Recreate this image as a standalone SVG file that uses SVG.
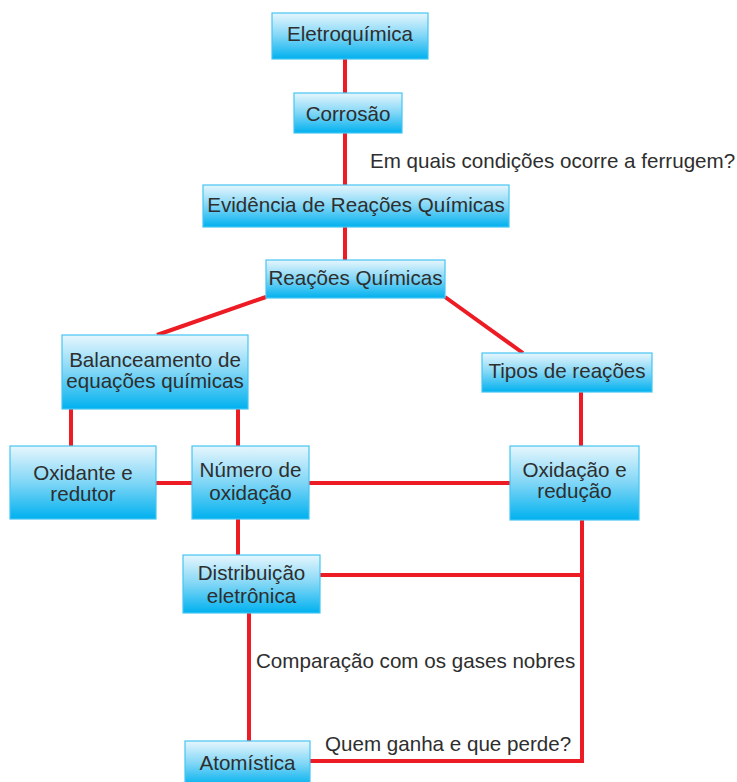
<svg xmlns="http://www.w3.org/2000/svg" width="737" height="782" viewBox="0 0 737 782">
<defs>
<linearGradient id="g" x1="0" y1="0" x2="0" y2="1">
<stop offset="0" stop-color="#e6f6fd"/>
<stop offset="0.5" stop-color="#80d6f6"/>
<stop offset="1" stop-color="#00b1ef"/>
</linearGradient>
<style>
.box{fill:url(#g);stroke:#45c5f2;stroke-width:1.2}
.t{font-family:"Liberation Sans",Arial,sans-serif;font-size:20.6px;fill:#2e2e2e;text-anchor:middle}
.l{font-family:"Liberation Sans",Arial,sans-serif;font-size:20.6px;fill:#2e2e2e}
.c{stroke:#ed1c24;stroke-width:4;fill:none;stroke-linejoin:miter}
</style>
</defs>
<rect width="737" height="782" fill="#fff"/>
<g id="connectors">
<line class="c" x1="345" y1="59" x2="345" y2="93"/>
<line class="c" x1="345" y1="133" x2="345" y2="185"/>
<line class="c" x1="345" y1="227" x2="345" y2="260"/>
<line class="c" x1="266" y1="297" x2="157" y2="335"/>
<line class="c" x1="445" y1="297" x2="523" y2="353"/>
<line class="c" x1="71" y1="409" x2="71" y2="446"/>
<line class="c" x1="238" y1="409" x2="238" y2="446"/>
<line class="c" x1="156" y1="483" x2="192" y2="483"/>
<line class="c" x1="309" y1="483" x2="510" y2="483"/>
<line class="c" x1="581" y1="392" x2="581" y2="446"/>
<line class="c" x1="238" y1="519" x2="238" y2="555"/>
<line class="c" x1="320" y1="575" x2="582" y2="575"/>
<polyline class="c" points="582,520 582,761 310,761"/>
<line class="c" x1="249" y1="613" x2="249" y2="741"/>
</g>
<g id="eletroquimica"><rect class="box" x="272" y="13" width="156" height="46"/><text class="t" x="350" y="41">Eletroquímica</text></g>
<g id="corrosao"><rect class="box" x="294" y="93" width="108" height="40"/><text class="t" x="348" y="121">Corrosão</text></g>
<g id="evidencia"><rect class="box" x="203" y="185" width="306" height="42"/><text class="t" x="356" y="212">Evidência de Reações Químicas</text></g>
<g id="reacoes"><rect class="box" x="266" y="260" width="179" height="38"/><text class="t" x="355.5" y="285">Reações Químicas</text></g>
<g id="balanceamento"><rect class="box" x="62" y="335" width="186" height="74"/><text class="t" x="155" y="367">Balanceamento de</text><text class="t" x="155" y="388">equações químicas</text></g>
<g id="tipos"><rect class="box" x="482" y="353" width="170" height="39"/><text class="t" x="567" y="378">Tipos de reações</text></g>
<g id="oxidante"><rect class="box" x="10" y="446" width="146" height="73"/><text class="t" x="83" y="480">Oxidante e</text><text class="t" x="83" y="501">redutor</text></g>
<g id="numero"><rect class="box" x="192" y="446" width="117" height="73"/><text class="t" x="250.5" y="477">Número de</text><text class="t" x="250.5" y="500">oxidação</text></g>
<g id="oxidacao"><rect class="box" x="510" y="446" width="129" height="74"/><text class="t" x="574.5" y="477">Oxidação e</text><text class="t" x="574.5" y="498">redução</text></g>
<g id="distribuicao"><rect class="box" x="183" y="555" width="137" height="58"/><text class="t" x="251.5" y="580">Distribuição</text><text class="t" x="251.5" y="603">eletrônica</text></g>
<g id="atomistica"><rect class="box" x="185" y="741" width="125" height="45"/><text class="t" x="247.5" y="770">Atomística</text></g>
<g id="labels">
<text class="l" x="370" y="168">Em quais condições ocorre a ferrugem?</text>
<text class="l" x="256" y="668">Comparação com os gases nobres</text>
<text class="l" x="325" y="751">Quem ganha e que perde?</text>
</g>
</svg>
